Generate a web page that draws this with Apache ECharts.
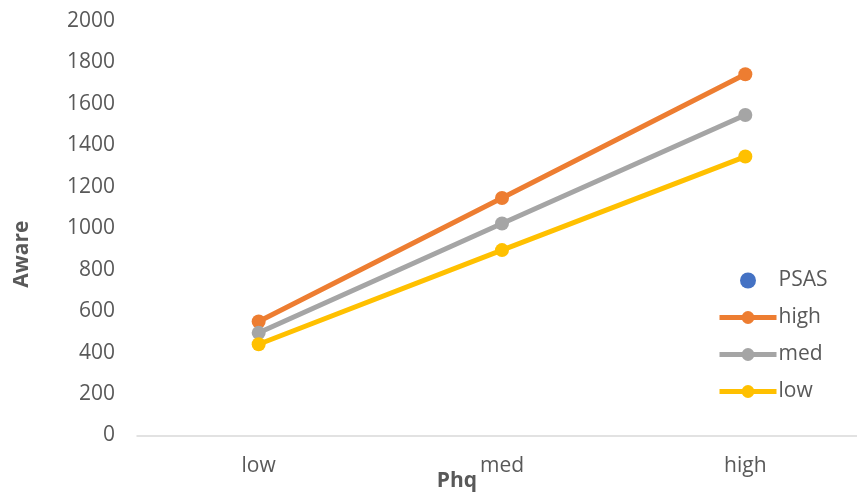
<!DOCTYPE html>
<html>
<head>
<meta charset="utf-8">
<script src="https://cdn.jsdelivr.net/npm/echarts@6/dist/echarts.min.js"></script>
<style>
  html, body { margin: 0; padding: 0; background: #fff; }
  #chart { width: 857px; height: 495px; }
</style>
</head>
<body>
<div id="chart"></div>
<script>
// Phq level on the x axis
const categories = ['low', 'med', 'high'];

// Aware values for each PSAS level
const psasHigh = [550, 1145, 1742];
const psasMed = [495, 1022, 1545];
const psasLow = [440, 894, 1345];

// y axis range
const yMin = 0;
const yMax = 2000;
const yStep = 200;

const FONT = '"Open Sans", sans-serif';
const TEXT = '#595959';

function lineSeries(name, values, color) {
  return {
    name: name,
    type: 'line',
    data: values,
    symbol: 'circle',
    symbolSize: 14,
    lineStyle: { color: color, width: 5 },
    itemStyle: { color: color, opacity: 1 },
    emphasis: { disabled: true },
    z: 3
  };
}

const chart = echarts.init(document.getElementById('chart'), null, { renderer: 'canvas' });
chart.setOption({
  animation: false,
  backgroundColor: '#fff',
  grid: { left: 137, right: -10, top: 20.7, bottom: 59.5, containLabel: false, outerBoundsMode: 'none' },
  legend: {
    orient: 'vertical',
    left: 717,
    top: 270,
    padding: 0,
    itemWidth: 57,
    itemHeight: 16,
    itemGap: 16,
    textStyle: { fontFamily: FONT, fontSize: 21, color: TEXT, padding: [0, 0, 0, -3] },
    lineStyle: { width: 5 },
    data: ['PSAS', 'high', 'med', 'low']
  },
  xAxis: {
    type: 'category',
    data: categories,
    boundaryGap: true,
    name: 'Phq',
    nameLocation: 'middle',
    nameGap: 35,
    nameMoveOverlap: false,
    nameTextStyle: { fontFamily: FONT, fontSize: 21, fontWeight: 'bold', color: TEXT, padding: [0, 90, 0, 0] },
    axisLine: { lineStyle: { color: '#d9d9d9', width: 1.5 } },
    axisTick: { show: false },
    axisLabel: { fontFamily: FONT, fontSize: 21, color: TEXT, margin: 20 },
    splitLine: { show: false }
  },
  yAxis: {
    type: 'value',
    min: yMin,
    max: yMax,
    interval: yStep,
    name: 'Aware',
    nameLocation: 'middle',
    nameGap: 104,
    nameMoveOverlap: false,
    nameTextStyle: { fontFamily: FONT, fontSize: 21, fontWeight: 'bold', color: TEXT, padding: [0, 52, 0, 0] },
    axisLine: { show: false },
    axisTick: { show: false },
    axisLabel: { fontFamily: FONT, fontSize: 21, color: TEXT, margin: 22, formatter: v => String(v) },
    splitLine: { show: false }
  },
  series: [
    { name: 'PSAS', type: 'scatter', data: [], symbol: 'circle', itemStyle: { color: '#4472C4', opacity: 1 } },
    lineSeries('high', psasHigh, '#ED7D31'),
    lineSeries('med', psasMed, '#A5A5A5'),
    lineSeries('low', psasLow, '#FFC000')
  ]
});
</script>
</body>
</html>
